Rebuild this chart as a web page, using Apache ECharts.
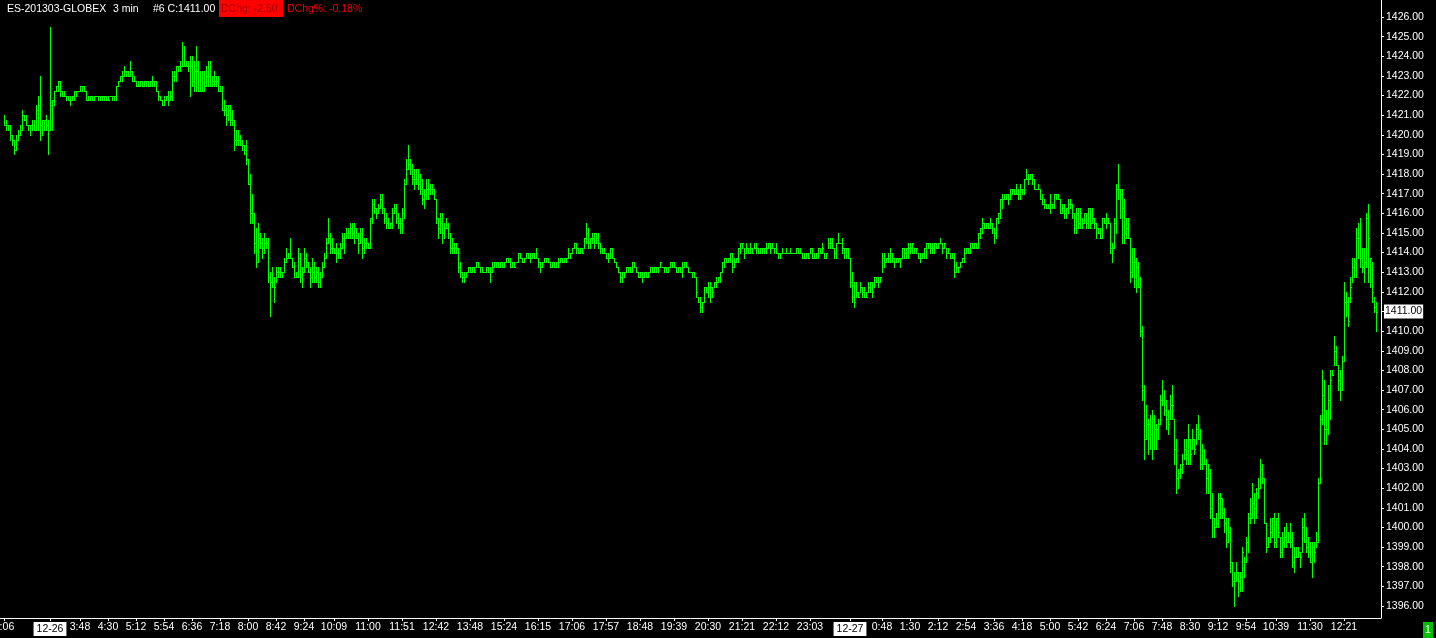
<!DOCTYPE html>
<html><head><meta charset="utf-8">
<script src="https://cdn.jsdelivr.net/npm/echarts@6/dist/echarts.min.js"></script>
<style>html,body{margin:0;padding:0;background:#000;}#c{width:1436px;height:638px;}</style>
</head><body><div id="c"></div>
<script>
const symbolText = 'ES-201303-GLOBEX';
const periodText = '3 min';
const barNoText = '#6';
const dayChange = -2.50;
const dayChangePct = -0.18;

const highs = [
1421,1420.75,1420.5,1420.5,1420,1419.75,1420,1420.25,1420.5,1421.25,
1421,1421,1420.5,1420.5,1420.75,1420.75,1421.5,1422,1423,1420.75,
1420.75,1421,1420.75,1425.5,1421.75,1422.25,1422.5,1422.75,1422.75,1422.25,
1422.25,1422,1422,1422,1422,1422.25,1422.25,1422.25,1422.5,1422.5,
1422.5,1422.25,1422,1422,1422,1422,1422,1422,1422,1422,
1422,1422,1422,1422,1422,1422,1422.5,1422.75,1423,1423.25,
1423.5,1423.25,1423.25,1423.75,1423.25,1423,1422.75,1422.75,1422.75,1422.75,
1422.75,1422.75,1422.75,1422.75,1423,1422.75,1422.75,1422.25,1422,1421.75,
1422,1422,1422.25,1422.25,1423.25,1423.25,1423.5,1423.5,1423.75,1424.75,
1424.5,1423.75,1423.75,1424,1424,1423.75,1424.5,1423.75,1423.25,1423.25,
1423.25,1423.5,1423.75,1423.75,1423,1423.25,1423,1423,1422.5,1422.5,
1421.75,1421.5,1421.5,1421.5,1421.25,1420.75,1420.25,1420.25,1420,1419.75,1419.5,
1419.75,1418.75,1418,1417,1416,1415.25,1415.5,1415,1414.75,1415,
1414.75,1414.75,1413,1413.25,1412.75,1413.25,1413.25,1413.25,1413,1413.75,
1414.25,1414,1414.75,1413.75,1413.5,1413,1414.25,1414,1413.25,1414.25,
1414,1413.5,1413.25,1413.75,1413.5,1413.25,1413.25,1413,1413.5,1414,
1414.75,1415.75,1415,1414.75,1414.25,1414.5,1414.25,1414.5,1415,1415,
1415.25,1415.25,1415.5,1415.5,1415.5,1415.25,1415,1415.25,1415.25,1414.75,
1414.75,1414.5,1415.75,1416.75,1416.75,1416.25,1416.5,1417,1417,1416.25,
1416,1415.75,1415.5,1416.25,1416.5,1416.5,1416,1415.75,1416.25,1417.75,
1418.75,1419.5,1418.75,1418.5,1418.25,1418.25,1418.25,1418,1417.75,1417.25,
1417.75,1417.75,1417.5,1417.5,1417.25,1416.75,1415.75,1416,1416,1415.5,
1415.75,1415.5,1415,1414.75,1414.5,1414.5,1414.25,1413.5,1413,1413,
1413,1413.25,1413.25,1413.25,1413.25,1413.5,1413.5,1413.25,1413.25,1413,
1413.25,1413.25,1413.25,1413.5,1413.5,1413.5,1413.5,1413.5,1413.5,1413.5,
1413.75,1413.75,1413.75,1413.5,1413.5,1413.5,1414,1414,1413.75,1413.75,
1414,1414,1414,1414,1414,1414.25,1413.75,1413.5,1413.5,1413.75,
1413.75,1413.75,1413.5,1413.5,1413.5,1413.5,1413.75,1413.75,1413.75,1413.75,
1413.75,1414.25,1414,1414.25,1414.5,1414.5,1414.25,1414.25,1414.25,1414.75,
1415.5,1415.25,1414.75,1415,1415,1415,1415,1414.5,1414.25,1414.25,
1414,1414,1414.25,1414.25,1413.75,1413.5,1413.25,1413,1413,1413,
1413.25,1413.25,1413.25,1413.5,1413.5,1413.25,1413,1413,1413,1413,
1413,1413,1413.25,1413.25,1413.25,1413.25,1413.25,1413.5,1413.25,1413.25,
1413.25,1413.25,1413.5,1413.5,1413.5,1413.25,1413.25,1413.25,1413.5,1413.5,
1413.5,1413.25,1413,1413,1413,1412.75,1411.75,1411.75,1411.5,1412.25,
1412.25,1412.5,1412.5,1412.25,1412.5,1412.75,1412.75,1413,1413.5,1413.75,
1413.75,1413.75,1414,1414,1413.75,1413.75,1414.25,1414.5,1414.5,1414.25,
1414.5,1414.25,1414.5,1414.25,1414.5,1414.5,1414.25,1414.25,1414.25,1414.25,
1414.5,1414.5,1414.5,1414.5,1414.25,1414.5,1414,1414,1414.25,1414,
1414.25,1414,1414.25,1414,1414,1414.25,1414.25,1414.25,1414,1414,
1414,1414,1414.25,1414.25,1414,1414,1414.25,1414.25,1414.5,1414,
1414,1414.75,1414.75,1414.75,1414.25,1414.5,1415,1414.5,1414.75,1414.25,
1414.25,1414.25,1413.75,1413,1412.5,1412.5,1412,1412.5,1412.25,1412.25,
1412,1412.5,1412.5,1412.5,1412.75,1412.75,1412.75,1412.75,1414,1414,
1413.75,1414,1414.25,1414,1413.75,1413.75,1413.75,1413.75,1414.25,1414.25,
1414.25,1414.5,1414.5,1414.5,1414.25,1414.25,1414,1414,1414,1414.25,
1414.5,1414.5,1414.5,1414.5,1414.5,1414.5,1414.5,1414.75,1414.5,1414.5,
1414.25,1414.25,1414,1414,1414,1413.5,1413.25,1413.5,1413.75,1414.25,
1414.25,1414.25,1414.5,1414.5,1414.5,1414.5,1415,1415.25,1415.75,1415.5,
1415.5,1415.5,1415.75,1415.5,1415.25,1415.75,1416,1416.75,1417,1417,
1417,1417,1417.25,1417.25,1417.25,1417.5,1417.25,1417.5,1417.25,1417.75,
1418.25,1418,1418,1418,1417.75,1417.25,1417.5,1417.25,1417,1416.75,
1416.5,1416.5,1417,1416.5,1417,1417,1417,1416.75,1416.5,1416.5,
1416.25,1416.75,1416.75,1416.5,1416,1416.25,1416.25,1416.25,1415.75,1416,
1416,1416.25,1416.25,1416.25,1415.75,1415.5,1415.25,1415.25,1415.75,1415.75,
1416,1415.75,1415.5,1414.5,1415.75,1417.5,1418.5,1417.25,1417.25,1416.75,
1415.75,1415.75,1414.75,1414.25,1414.25,1413.75,1413.5,1412.75,1410.25,1407.25,
1406.25,1405.5,1405.75,1406,1405.75,1405.25,1405.5,1406.75,1407.5,1407,
1406.5,1406,1406.75,1407.25,1405.5,1404.5,1403,1403.25,1403.75,1404.5,
1404.5,1405.25,1404.5,1405,1404.5,1405.25,1405.75,1405,1404.25,1404,
1403.5,1403.25,1403,1401.75,1400.5,1400.75,1401.75,1401.75,1401.5,1401,
1400.5,1400.5,1400,1398.25,1397.75,1398.25,1397.75,1397.75,1399,1398.5,
1399.5,1400.75,1401.5,1402.25,1401.75,1402,1402.5,1403.5,1403.25,1402.5,
1400.25,1399.5,1400.5,1400.5,1400.75,1400.5,1400.75,1399.5,1399.75,1400,
1400.25,1399.75,1400.25,1399.75,1399,1399,1399,1398.75,1400.5,1400.75,
1400,1399.5,1399.25,1399.25,1399.25,1399.75,1402.5,1405.75,1408,1407.5,
1406,1407.25,1408,1408,1409.75,1409.25,1408.25,1408,1408.75,1412.5,
1412,1411.75,1412.75,1413.75,1413.75,1415.25,1415.5,1415.75,1414.25,1414.25,
1416,1416.5,1413.75,1413.5,1411.75,1411.5
];

const lows = [
1420.5,1420.25,1420.25,1419.75,1419.5,1419,1419.25,1419.75,1420,1420.25,
1420.75,1420.5,1420.25,1420,1420.25,1420.25,1420.25,1420.25,1419.75,1420,
1420.25,1420.25,1419,1420.25,1420.25,1421.5,1422.25,1422.25,1422,1422,
1422,1421.75,1421.75,1421.5,1421.75,1421.75,1422,1422.25,1422.25,1422.25,
1422.25,1421.75,1421.75,1421.75,1421.75,1421.75,1422,1421.75,1421.75,1421.75,
1421.75,1421.75,1421.75,1422,1421.75,1421.75,1421.75,1422.5,1422.75,1422.75,
1423,1423,1423,1423,1422.75,1422.75,1422.5,1422.5,1422.5,1422.5,
1422.5,1422.5,1422.5,1422.5,1422.5,1422.5,1422.25,1421.75,1421.75,1421.5,
1421.5,1421.75,1421.5,1421.75,1421.75,1422.75,1422.75,1423.25,1423.25,1423.5,
1423.5,1423.5,1423.25,1422,1422.5,1422.25,1422.25,1422.25,1422.25,1422.25,
1422.25,1422.5,1422.5,1422.5,1422.5,1422.5,1422.5,1422.25,1422.25,1421.25,
1421,1420.5,1420.75,1420.5,1420.5,1419.25,1419.5,1419.5,1419.5,1419.25,1419,
1418.5,1417.5,1415.5,1415.5,1414,1413.25,1413.5,1414.25,1413.75,1414,
1414.25,1412.5,1410.75,1412.25,1411.5,1412.5,1412.75,1412.75,1412.75,1413,
1413.5,1413.75,1413.75,1413.25,1412.75,1412.75,1412.75,1412.5,1412.25,1413,
1413.25,1413,1412.25,1412.5,1412.5,1412.5,1412.25,1412.25,1412.75,1413.25,
1413.75,1414.5,1414,1414,1414,1413.5,1413.75,1413.75,1414.25,1414,
1414.75,1414.75,1414.75,1414.75,1414.5,1414.75,1414,1414.5,1413.75,1414,
1414.25,1414.25,1414.25,1415.5,1416,1415.75,1416,1416.25,1416,1415.5,
1415.25,1415.25,1415.25,1415.25,1416,1415.5,1415.25,1415,1415,1415.75,
1417.5,1418.25,1418,1417.5,1417.25,1417.5,1417.25,1417,1416.5,1416.25,
1416.75,1416.75,1417,1417,1416.75,1415.5,1414.75,1415,1414.5,1414.75,
1415.25,1414.75,1414,1414,1414,1414,1413,1412.75,1412.5,1412.5,
1412.75,1413,1413,1413,1413,1413.25,1413.25,1413,1413,1413,
1413,1413,1412.5,1413,1413.25,1413.25,1413.25,1413.25,1413.25,1413.25,
1413.5,1413.5,1413.25,1413.25,1413.25,1413.5,1413.5,1413.75,1413.5,1413.5,
1413.75,1413.75,1413.5,1413.75,1413.75,1413.75,1413.25,1413,1413.25,1413.5,
1413.5,1413.5,1413.25,1413.25,1413.25,1413.25,1413.25,1413.5,1413.5,1413.5,
1413.5,1413.75,1413.75,1414,1414.25,1414,1414,1414,1414,1414.25,
1414.5,1414.25,1414.25,1414.5,1414.25,1414.5,1414.25,1414,1414,1414,
1413.75,1413.5,1413.75,1413.75,1413.5,1413.25,1413,1412.5,1412.5,1412.75,
1413,1413,1413,1413,1413.25,1413,1412.75,1412.75,1412.5,1412.75,
1412.75,1412.75,1413,1413,1413,1413,1413,1413.25,1413.25,1413,
1413,1413,1413.25,1413.25,1413.25,1413,1413,1413,1412.75,1413.25,
1413.25,1413,1413,1412.75,1412.75,1411.75,1411.5,1411,1411,1411.5,
1412,1411.75,1411.5,1411.75,1412.25,1412.25,1412.5,1412.5,1413,1413.25,
1413.5,1413.5,1413.5,1413,1413.25,1413.5,1413.5,1414,1414.25,1413.75,
1414,1414,1414,1414,1414.25,1414,1414,1414,1414,1414,
1414,1414.25,1414,1414.25,1414,1414,1413.75,1413.75,1414,1414,
1414,1414,1414,1414,1414,1414,1414,1414,1413.75,1413.75,
1413.75,1413.75,1414,1413.75,1413.75,1413.75,1413.75,1414,1414,1413.75,
1413.75,1414.25,1414.25,1414.25,1413.75,1413.75,1414.5,1414.5,1414,1413.75,
1413.75,1413.75,1412.25,1411.5,1411.25,1411.75,1411.75,1412,1411.75,1411.75,
1411.75,1412,1412,1411.75,1412.25,1412.5,1412.25,1412.5,1413,1413.25,
1413.5,1413.5,1413.5,1413.5,1413.25,1413.5,1413.5,1413.25,1413.75,1413.75,
1413.75,1413.75,1414,1414,1414,1414,1413.75,1413.5,1413.75,1413.75,
1413.75,1414.25,1414,1414,1414,1414.25,1414.25,1414.5,1414,1414.25,
1413.75,1414,1413.75,1413.75,1412.75,1413,1413,1413.25,1413.5,1413.5,
1414,1414,1414,1414.25,1414.25,1414.25,1414.25,1414.75,1415,1415.25,
1415.25,1415.25,1415.25,1415,1414.5,1414.75,1415.5,1415.75,1416.25,1416.75,
1416.75,1416.5,1416.75,1417,1417,1417,1416.75,1416.75,1417,1417,
1417.75,1417.5,1417.75,1417.5,1417.25,1417.25,1417.25,1416.75,1416.5,1416.25,
1416.25,1416.25,1416,1416.25,1416.25,1416.75,1416.75,1416,1416,1415.75,
1415.75,1416,1416.25,1415.75,1415,1415,1415.25,1415.25,1415.25,1415.5,
1415.25,1415.25,1415.25,1415.5,1415.25,1414.75,1415,1414.75,1414.75,1415.5,
1415.25,1415.5,1414,1413.5,1414.25,1415,1416.75,1415.75,1414.5,1414.5,
1414.75,1414.75,1412.5,1412.75,1412.25,1412,1412.25,1409.75,1406.5,1403.5,
1404.5,1403.75,1404,1403.5,1404,1404,1404.5,1405.25,1406.25,1405.75,
1405,1404.75,1405.5,1405.5,1403.25,1401.75,1402,1402.5,1402.75,1403.5,
1403.25,1403.25,1403.25,1404,1403.75,1404.25,1404.5,1403,1403,1403.25,
1401.75,1401.75,1400.5,1399.5,1399.5,1400,1400,1400.5,1400.5,1399.75,
1399,1399.25,1397.75,1397,1396,1397.25,1396.5,1396.75,1396.75,1397.5,
1398.25,1398.75,1400.25,1400.5,1400.25,1400.5,1401.5,1402,1402.25,1400.25,
1398.75,1399,1399.25,1399.5,1399,1399,1399.5,1398.5,1398.5,1399,
1399,1399.25,1399,1398,1397.75,1398.5,1398.5,1398,1398.75,1399.25,
1398.75,1398.5,1398.25,1397.5,1398.25,1399,1399.25,1402.25,1405.25,1404.25,
1404.25,1404.75,1405.5,1407.75,1408.25,1408.25,1407,1406.5,1407,1408.5,
1410.75,1410.25,1411.5,1412.5,1412.75,1412.75,1413.75,1413.25,1413,1412.5,
1413.25,1412.5,1412.25,1411.5,1411,1410
];

const closes = [
1420.5,1420.5,1420.5,1420,1419.75,1419.25,1419.75,1420,1420.25,1421,
1420.75,1420.5,1420.5,1420.5,1420.5,1420.25,1421.25,1421.5,1420.5,1420.75,
1420.75,1420.5,1420.25,1421.5,1421.75,1422.25,1422.5,1422.75,1422.25,1422,
1422,1422,1421.75,1421.75,1422,1422.25,1422.25,1422.25,1422.5,1422.5,
1422.25,1421.75,1421.75,1422,1421.75,1422,1422,1422,1422,1422,
1422,1421.75,1421.75,1422,1422,1422,1422.5,1422.75,1423,1423,
1423.25,1423.25,1423,1423.25,1422.75,1422.75,1422.5,1422.5,1422.75,1422.5,
1422.75,1422.75,1422.5,1422.75,1422.75,1422.75,1422.25,1422,1421.75,1421.5,
1421.75,1422,1421.75,1422,1423,1423,1423.5,1423.5,1423.5,1423.5,
1423.5,1423.5,1423.5,1423.5,1422.75,1423.25,1423.25,1422.25,1422.25,1422.25,
1422.5,1423,1423,1422.5,1422.75,1422.75,1422.75,1422.25,1422.25,1421.25,
1421.25,1421,1421.25,1420.75,1420.75,1419.75,1419.75,1419.75,1419.5,1419.5,1419.25,
1418.75,1417.5,1416,1416,1414.5,1413.5,1414.75,1414.5,1414.25,1414.5,
1414.5,1412.75,1412.5,1412.5,1412.25,1413,1413,1413,1413,1413.5,
1413.75,1413.75,1413.75,1413.25,1412.75,1412.75,1413.75,1412.75,1413,1413.75,
1413.5,1413,1412.75,1413,1412.75,1413,1412.5,1412.75,1413.25,1413.75,
1414.5,1414.75,1414.25,1414.25,1414,1414,1414,1414.25,1414.75,1414.75,
1415,1415,1415.25,1415,1415.25,1414.75,1414.5,1415,1414.25,1414.5,
1414.5,1414.25,1415.75,1416.5,1416.25,1416,1416.25,1416.75,1416.25,1415.75,
1415.5,1415.25,1415.5,1416,1416.25,1415.75,1415.5,1415.5,1416,1417.5,
1418.25,1418.5,1418.25,1417.75,1417.75,1417.75,1417.5,1417.25,1416.75,1417,
1417.25,1417.25,1417.25,1417.25,1416.75,1415.75,1415.25,1415.5,1415,1415.25,
1415.25,1415,1414.25,1414.25,1414.25,1414.25,1413.25,1413,1412.75,1412.75,
1413,1413.25,1413,1413.25,1413,1413.5,1413.25,1413.25,1413,1413,
1413.25,1413,1413,1413.25,1413.5,1413.5,1413.25,1413.5,1413.25,1413.5,
1413.75,1413.5,1413.25,1413.5,1413.25,1413.5,1414,1413.75,1413.5,1413.75,
1414,1413.75,1413.75,1414,1413.75,1414,1413.5,1413.25,1413.5,1413.75,
1413.75,1413.5,1413.25,1413.5,1413.25,1413.5,1413.5,1413.75,1413.5,1413.75,
1413.75,1414,1414,1414.25,1414.5,1414.25,1414,1414.25,1414,1414.75,
1415,1414.5,1414.75,1414.75,1415,1414.75,1414.5,1414.25,1414,1414,
1413.75,1413.75,1414.25,1413.75,1413.5,1413.25,1413,1412.75,1413,1413,
1413.25,1413.25,1413,1413.5,1413.25,1413,1412.75,1413,1412.75,1413,
1412.75,1413,1413.25,1413,1413.25,1413.25,1413.25,1413.5,1413.25,1413.25,
1413,1413.25,1413.5,1413.5,1413.25,1413,1413.25,1413,1413.25,1413.5,
1413.25,1413,1413,1413,1412.75,1412,1411.5,1411.25,1411.5,1412.25,
1412,1412.25,1412.25,1412,1412.5,1412.5,1412.75,1413,1413.5,1413.75,
1413.5,1413.75,1414,1413.25,1413.5,1413.75,1414.25,1414.5,1414.5,1414,
1414.25,1414,1414.25,1414,1414.25,1414.25,1414,1414.25,1414.25,1414.25,
1414.25,1414.5,1414.25,1414.25,1414.25,1414,1414,1414,1414,1414,
1414,1414,1414,1414,1414,1414.25,1414,1414,1413.75,1413.75,
1414,1413.75,1414.25,1413.75,1413.75,1414,1414.25,1414,1414.25,1413.75,
1414,1414.5,1414.5,1414.25,1414,1414.5,1414.5,1414.5,1414.25,1414.25,
1414.25,1413.75,1412.5,1411.75,1411.5,1412,1411.75,1412.25,1412,1411.75,
1411.75,1412.25,1412.5,1412,1412.75,1412.5,1412.5,1412.75,1413.75,1413.5,
1413.75,1413.75,1414,1413.75,1413.5,1413.75,1413.75,1413.75,1414.25,1414,
1414.25,1414.25,1414.25,1414.5,1414.25,1414.25,1413.75,1413.75,1414,1414.25,
1414.5,1414.5,1414.25,1414.25,1414.5,1414.25,1414.5,1414.5,1414.25,1414.5,
1414,1414,1413.75,1413.75,1413,1413.25,1413.25,1413.5,1413.75,1414,
1414.25,1414,1414.5,1414.25,1414.5,1414.25,1415,1415.25,1415.5,1415.25,
1415.5,1415.25,1415.5,1415.25,1415,1415.75,1416,1416.75,1416.75,1416.75,
1417,1416.75,1417.25,1417.25,1417,1417,1417,1417.25,1417.25,1417.75,
1417.75,1417.75,1418,1417.75,1417.25,1417.25,1417.25,1416.75,1416.5,1416.5,
1416.25,1416.25,1416.5,1416.5,1417,1417,1416.75,1416,1416.25,1416,
1416.25,1416.5,1416.5,1416,1415.25,1416,1415.5,1416,1415.5,1416,
1415.5,1416.25,1415.5,1415.75,1415.5,1415.25,1415,1414.75,1415.75,1415.5,
1415.5,1415.5,1414.25,1414.25,1415.5,1417.25,1417.25,1417,1416.25,1415,
1415.25,1414.75,1413,1413.5,1413.5,1413.25,1412.25,1410,1407,1404.5,
1405.25,1405.25,1404.75,1405.5,1405,1405,1405.25,1406.5,1406.5,1406,
1405.5,1405.25,1406.25,1406.25,1404,1402.5,1402.75,1403,1403.25,1404,
1403.75,1404.5,1403.75,1404.5,1404,1405,1404.75,1403.25,1403.25,1403.25,
1402.5,1402.75,1401,1400.5,1400,1400.25,1401.5,1401.5,1400.75,1400.25,
1399.25,1399.75,1398.25,1397.25,1397.25,1397.75,1397.25,1397.5,1398.75,1398.25,
1399.25,1400.5,1400.5,1401.25,1401,1401.75,1402,1403,1402.5,1400.25,
1399,1399.25,1399.75,1400.5,1399.25,1400.5,1399.75,1398.75,1399.25,1399.5,
1399.25,1399.25,1399.25,1398.25,1398.5,1398.5,1398.75,1398.5,1400,1399.25,
1399,1398.75,1398.25,1399,1398.75,1399.25,1402.25,1405.5,1406.75,1405,
1405,1406.5,1407.5,1407.75,1409,1408.25,1407.5,1407,1408.5,1411.5,
1411.5,1410.5,1412.25,1413.25,1413.5,1414.75,1414.75,1413.75,1413.25,1413.5,
1415.75,1414.75,1413.75,1412,1411.25,1411
];

const priceTicks = [1396,1397,1398,1399,1400,1401,1402,1403,1404,1405,1406,1407,1408,1409,1410,1411,1412,1413,1414,1415,1416,1417,1418,1419,1420,1421,1422,1423,1424,1425,1426];
const timeTickBars = [0,23,38,52,66,80,94,108,122,136,150,165,182,199,216,233,250,267,284,301,318,335,352,369,386,403,423,439,453,467,481,495,509,523,537,551,565,579,593,607,621,636,653,670];
const timeTickLabels = ['2:06','12-26','3:48','4:30','5:12','5:54','6:36','7:18','8:00','8:42','9:24','10:09','11:00','11:51','12:42','13:48','15:24','16:15','17:06','17:57','18:48','19:39','20:30','21:21','22:12','23:03','12-27','0:48','1:30','2:12','2:54','3:36','4:18','5:00','5:42','6:24','7:06','7:48','8:30','9:12','9:54','10:39','11:30','12:21'];
const dateLabels = ['12-26','12-27'];

const GREEN = '#00ff00';
const FONT = 'Liberation Sans';
const FS = 10.5;

const barData = highs.map((h, i) => [i, h, lows[i], closes[i]]);
const lastClose = closes[closes.length - 1];

function renderItem(params, api) {
  const i = api.value(0);
  const pH = api.coord([i, api.value(1)]);
  const pL = api.coord([i, api.value(2)]);
  const pC = api.coord([i, api.value(3)]);
  const x = Math.round(pH[0]);
  const yH = Math.round(pH[1]), yL = Math.round(pL[1]), yC = Math.round(pC[1]);
  return {
    type: 'group',
    children: [
      { type: 'rect', shape: { x: x, y: yH, width: 1, height: Math.max(1, yL - yH + 1) }, style: { fill: GREEN } },
      { type: 'rect', shape: { x: x + 1, y: yC, width: 1, height: 1 }, style: { fill: GREEN } }
    ]
  };
}

const chart = echarts.init(document.getElementById('c'), null, { renderer: 'canvas' });
chart.setOption({
  backgroundColor: '#000',
  animation: false,
  grid: { left: 0, right: 55, top: 0, bottom: 20, containLabel: false, outerBoundsMode: 'none' },
  xAxis: {
    type: 'value', min: -2, max: 688.5,
    axisLine: { show: true, onZero: false, lineStyle: { color: '#fff', width: 1 } },
    axisTick: { show: true, customValues: timeTickBars, length: 3, lineStyle: { color: '#fff' } },
    axisLabel: {
      customValues: timeTickBars, color: '#fff', fontFamily: FONT, fontSize: FS, margin: 4,
      formatter: function (v) {
        const t = timeTickLabels[timeTickBars.indexOf(v)];
        if (t === undefined) return '';
        return dateLabels.indexOf(t) >= 0 ? '{d|' + t + '}' : t;
      },
      rich: { d: { backgroundColor: '#fff', color: '#000', padding: [2, 3, 1, 3], fontFamily: FONT, fontSize: FS } }
    },
    splitLine: { show: false }
  },
  yAxis: {
    type: 'value', position: 'right', min: 1395.389, max: 1426.866,
    axisLine: { show: true, onZero: false, lineStyle: { color: '#fff', width: 1 } },
    axisTick: { show: true, customValues: priceTicks, length: 3, lineStyle: { color: '#fff' } },
    axisLabel: { customValues: priceTicks, color: '#fff', fontFamily: FONT, fontSize: FS, margin: 5,
      formatter: v => v.toFixed(2) },
    splitLine: { show: false }
  },
  series: [{
    type: 'custom',
    renderItem: renderItem,
    data: barData,
    progressive: 0,
    encode: { x: 0, y: [1, 2, 3] },
    markLine: {
      silent: true, symbol: 'none', animation: false,
      lineStyle: { color: 'rgba(0,0,0,0)', width: 0 },
      label: { show: true, position: 'end', distance: 3, formatter: p => Number(p.value).toFixed(2),
        backgroundColor: '#fff', color: '#000', padding: [2, 1, 1, 1], fontFamily: FONT, fontSize: FS },
      data: [{ yAxis: lastClose }]
    }
  }],
  graphic: [
    { type: 'text', x: 7, y: 4, style: { text: symbolText, fill: '#fff', fontFamily: FONT, fontSize: FS } },
    { type: 'text', x: 113, y: 4, style: { text: periodText, fill: '#fff', fontFamily: FONT, fontSize: FS } },
    { type: 'text', x: 153, y: 4, style: { text: barNoText + ' C:' + lastClose.toFixed(2), fill: '#fff', fontFamily: FONT, fontSize: FS } },
    { type: 'rect', shape: { x: 219, y: 0, width: 64, height: 17 }, style: { fill: '#ff0000' } },
    { type: 'text', x: 221, y: 4, style: { text: 'DChg: ' + dayChange.toFixed(2), fill: '#a00000', fontFamily: FONT, fontSize: FS } },
    { type: 'text', x: 287, y: 4, style: { text: 'DChg%: ' + dayChangePct.toFixed(2) + '%', fill: '#f00000', fontFamily: FONT, fontSize: FS } },
    { type: 'rect', shape: { x: 1423, y: 622, width: 10, height: 16 }, style: { fill: '#00c000' } },
    { type: 'text', x: 1428, y: 630, style: { text: '1', fill: '#fff', fontFamily: FONT, fontSize: FS, align: 'center', verticalAlign: 'middle' } }
  ]
});
</script>
</body></html>
